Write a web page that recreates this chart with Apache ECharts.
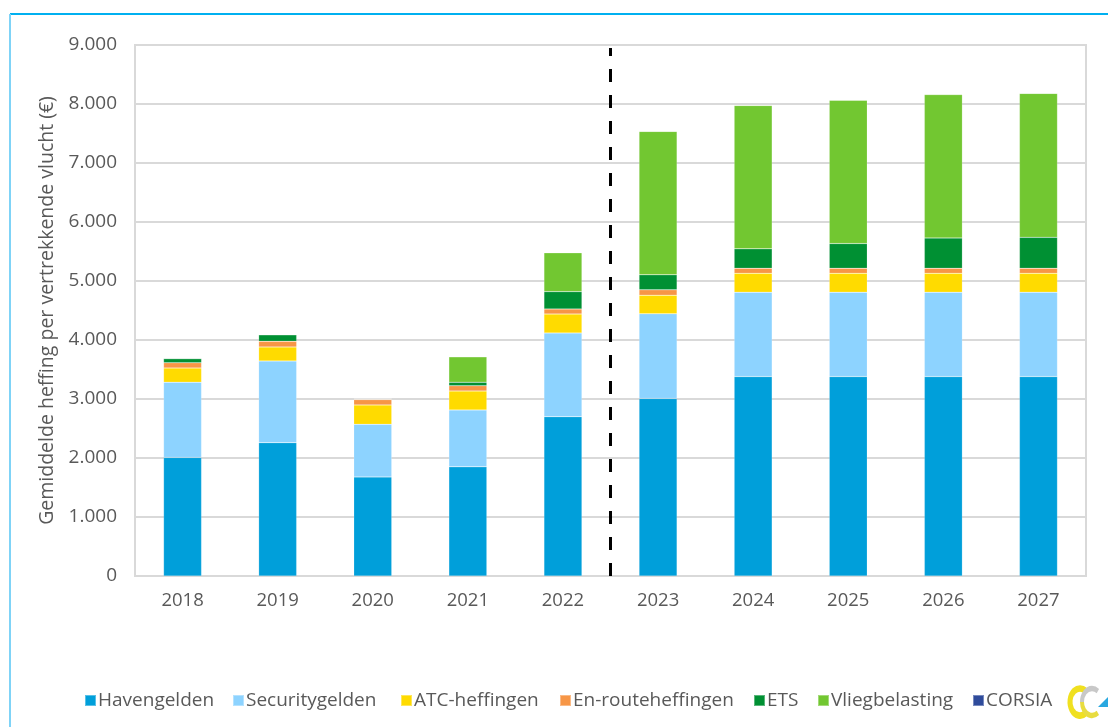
<!DOCTYPE html>
<html>
<head>
<meta charset="utf-8">
<script src="https://cdn.jsdelivr.net/npm/echarts@6/dist/echarts.min.js"></script>
<style>
  html, body { margin: 0; padding: 0; background: #fff; }
  #chart { width: 1108px; height: 727px; }
</style>
</head>
<body>
<div id="chart"></div>
<script>
// jaren
var years = ['2018', '2019', '2020', '2021', '2022', '2023', '2024', '2025', '2026', '2027']
// heffingen per vertrekkende vlucht (€)
var havengelden = [2010, 2260, 1680, 1850, 2700, 3010, 3380, 3380, 3380, 3380]
var securitygelden = [1275, 1385, 890, 965, 1420, 1435, 1430, 1430, 1430, 1430]
var atcHeffingen = [240, 237, 330, 320, 320, 315, 320, 320, 320, 320]
var enrouteHeffingen = [90, 95, 90, 90, 85, 90, 85, 85, 85, 85]
var ets = [70, 113, 10, 60, 295, 255, 330, 420, 515, 525]
var vliegbelasting = [0, 0, 0, 430, 660, 2430, 2430, 2430, 2430, 2440]
var corsia = [0, 0, 0, 0, 0, 0, 0, 0, 0, 0]
var yTicks = [0, 1000, 2000, 3000, 4000, 5000, 6000, 7000, 8000, 9000]
// scheiding tussen realisatie en prognose (tussen 2022 en 2023)
var dividerAt = 4.5

var names = ['Havengelden', 'Securitygelden', 'ATC-heffingen', 'En-routeheffingen', 'ETS', 'Vliegbelasting', 'CORSIA']
var colors = ['#009fda', '#8dd3ff', '#ffdb00', '#f79646', '#009033', '#72c731', '#2f4b9b']
var legendLeft = [84, 232, 400, 559, 753, 817, 972]

var textColor = '#595959'
var font = 'Open Sans'

function fmt (v) {
  return String(v).replace(/\B(?=(\d{3})+(?!\d))/g, '.')
}

function barSeries (i, data) {
  return {
    name: names[i],
    type: 'bar',
    stack: 'total',
    barWidth: 38,
    data: data,
    itemStyle: { color: colors[i], borderColor: 'rgba(255,255,255,0.35)', borderWidth: 0.5 }
  }
}

// elk legenda-item apart, zoals in het origineel (ongelijke tussenruimte)
var legends = names.map(function (n, i) {
  return {
    left: legendLeft[i],
    top: 691,
    padding: 0,
    itemWidth: 11,
    itemHeight: 11,
    itemGap: 0,
    icon: 'rect',
    textStyle: { color: textColor, fontSize: 19, fontFamily: font, padding: [0, 0, 0, -3] },
    data: [n]
  }
})

// logo-boogjes (verticaal uitgerekt)
function logoArc (cx, a0, a1, color, w) {
  return {
    type: 'arc',
    x: cx,
    y: 702,
    scaleY: 1.35,
    shape: { cx: 0, cy: 0, r: 10, startAngle: Math.PI * a0, endAngle: Math.PI * a1 },
    style: { stroke: color, lineWidth: w, fill: null }
  }
}

var chart = echarts.init(document.getElementById('chart'))
chart.setOption({
  animation: false,
  textStyle: { fontFamily: font },
  grid: { left: 135, right: 22, top: 45, bottom: 151, show: true, borderColor: '#d9d9d9', borderWidth: 2 },
  legend: legends,
  xAxis: [
    {
      type: 'category',
      data: years,
      axisTick: { show: false },
      axisLine: { lineStyle: { color: '#d9d9d9', width: 2 } },
      axisLabel: { color: textColor, fontSize: 18.5, margin: 15 }
    },
    {
      // verborgen as voor de stippellijn
      type: 'value',
      min: -0.5,
      max: 9.5,
      show: false
    }
  ],
  yAxis: {
    type: 'value',
    min: yTicks[0],
    max: yTicks[yTicks.length - 1],
    interval: 1000,
    name: 'Gemiddelde heffing per vertrekkende vlucht (€)',
    nameLocation: 'middle',
    nameGap: 78,
    nameTextStyle: { color: textColor, fontSize: 19.5 },
    axisLine: { show: false },
    axisTick: { show: false },
    axisLabel: { color: textColor, fontSize: 19, margin: 18, formatter: fmt },
    splitLine: { lineStyle: { color: '#d9d9d9', width: 2 } }
  },
  series: [
    barSeries(0, havengelden),
    barSeries(1, securitygelden),
    barSeries(2, atcHeffingen),
    barSeries(3, enrouteHeffingen),
    barSeries(4, ets),
    barSeries(5, vliegbelasting),
    barSeries(6, corsia),
    {
      type: 'line',
      xAxisIndex: 1,
      data: [[dividerAt, 0], [dividerAt, 8950]],
      symbol: 'none',
      silent: true,
      lineStyle: { color: '#000', width: 3, type: [13, 13] },
      z: 5
    }
  ],
  graphic: [
    { type: 'line', shape: { x1: 10, y1: 14, x2: 1108, y2: 14 }, style: { stroke: '#00b0f0', lineWidth: 2 } },
    { type: 'line', shape: { x1: 10, y1: 14, x2: 10, y2: 727 }, style: { stroke: '#7fd3f7', lineWidth: 2 } },
    // logo rechtsonder
    logoArc(1080, 0.3, 1.7, '#f0e020', 5),
    logoArc(1092, 0.3, 1.0, '#e8dc40', 4),
    logoArc(1092, 1.0, 1.7, '#c8c8c8', 4),
    { type: 'polygon', shape: { points: [[1098, 707], [1108, 697], [1108, 707]] }, style: { fill: '#2aa8e0' } }
  ]
})
</script>
</body>
</html>
